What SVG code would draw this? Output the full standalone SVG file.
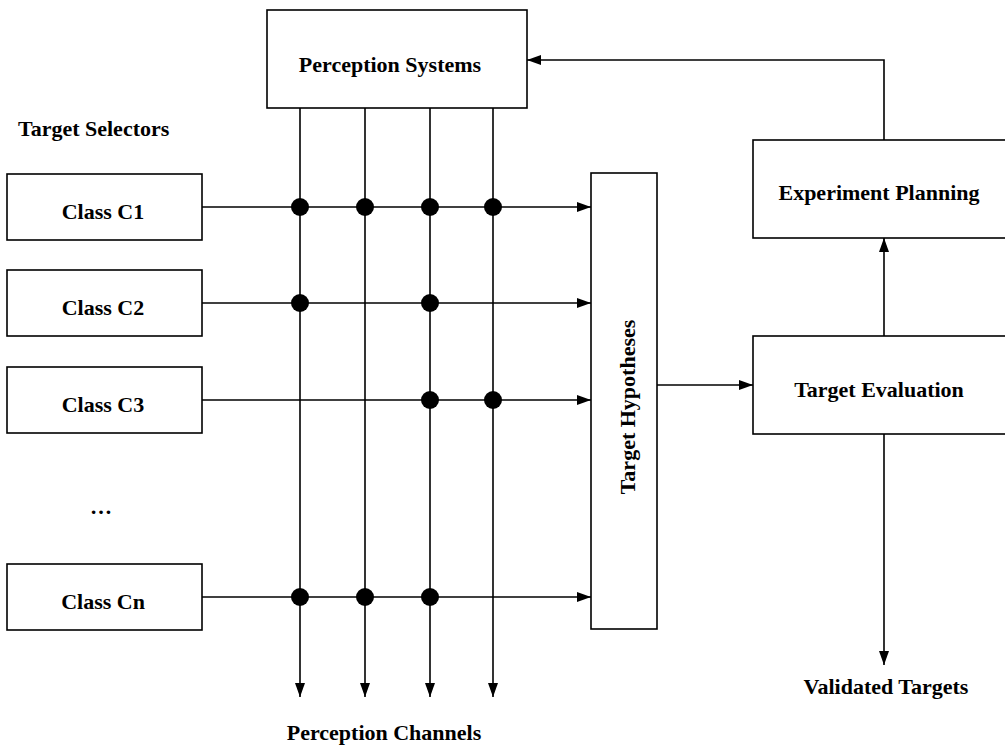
<svg xmlns="http://www.w3.org/2000/svg" width="1005" height="747" viewBox="0 0 1005 747">
  <style>
    .box { fill: #fff; stroke: #000; stroke-width: 1.6; }
    .lbl { font-family: "Liberation Serif", "Times New Roman", serif; font-weight: bold; font-size: 22px; fill: #000; }
    .mid { text-anchor: middle; }
    .wire { fill: none; stroke: #000; stroke-width: 1.6; }
    .arr { marker-end: url(#head); }
    .dot { fill: #000; }
  </style>
  <defs>
    <marker id="head" markerUnits="userSpaceOnUse" markerWidth="15" markerHeight="10" refX="14" refY="5" orient="auto">
      <path d="M0,0 L14,5 L0,10 z" fill="#000"/>
    </marker>
  </defs>

  <rect width="1005" height="747" fill="#fff"/>

  <!-- connectors -->
  <g id="connectors">
    <!-- perception channels, running down from the perception systems -->
    <path class="wire arr" d="M300,108 V697"/>
    <path class="wire arr" d="M365,108 V697"/>
    <path class="wire arr" d="M430,108 V697"/>
    <path class="wire arr" d="M493,108 V697"/>
    <!-- selector outputs into the hypotheses -->
    <path class="wire arr" d="M202,207 H591"/>
    <path class="wire arr" d="M202,303 H591"/>
    <path class="wire arr" d="M202,400 H591"/>
    <path class="wire arr" d="M202,597 H591"/>
    <!-- hypotheses to evaluation -->
    <path class="wire arr" d="M657,385 H753"/>
    <!-- evaluation to planning -->
    <path class="wire arr" d="M884,336 V238"/>
    <!-- planning back to perception -->
    <path class="wire arr" d="M884,140 V60 H527"/>
    <!-- validated output -->
    <path class="wire arr" d="M884,434 V665"/>
    <!-- channel taps -->
    <circle class="dot" cx="300" cy="207" r="9"/>
    <circle class="dot" cx="365" cy="207" r="9"/>
    <circle class="dot" cx="430" cy="207" r="9"/>
    <circle class="dot" cx="493" cy="207" r="9"/>
    <circle class="dot" cx="300" cy="303" r="9"/>
    <circle class="dot" cx="430" cy="303" r="9"/>
    <circle class="dot" cx="430" cy="400" r="9"/>
    <circle class="dot" cx="493" cy="400" r="9"/>
    <circle class="dot" cx="300" cy="597" r="9"/>
    <circle class="dot" cx="365" cy="597" r="9"/>
    <circle class="dot" cx="430" cy="597" r="9"/>
  </g>

  <g id="perception-systems">
    <rect class="box" x="267" y="10" width="260" height="98"/>
    <text class="lbl mid" x="390" y="72">Perception Systems</text>
  </g>

  <g id="target-selectors">
    <text class="lbl" x="18" y="136">Target Selectors</text>
  </g>

  <g id="class-c1">
    <rect class="box" x="7" y="174" width="195" height="66"/>
    <text class="lbl mid" x="103" y="219">Class C1</text>
  </g>
  <g id="class-c2">
    <rect class="box" x="7" y="270" width="195" height="66"/>
    <text class="lbl mid" x="103" y="315">Class C2</text>
  </g>
  <g id="class-c3">
    <rect class="box" x="7" y="367" width="195" height="66"/>
    <text class="lbl mid" x="103" y="412">Class C3</text>
  </g>
  <g id="ellipsis">
    <text class="lbl mid" x="101" y="514">…</text>
  </g>
  <g id="class-cn">
    <rect class="box" x="7" y="564" width="195" height="66"/>
    <text class="lbl mid" x="103" y="609">Class Cn</text>
  </g>

  <g id="target-hypotheses">
    <rect class="box" x="591" y="173" width="66" height="456"/>
    <text class="lbl mid" transform="translate(635,407) rotate(-90)">Target Hypotheses</text>
  </g>

  <g id="experiment-planning">
    <rect class="box" x="753" y="140" width="270" height="98"/>
    <text class="lbl mid" x="879" y="200">Experiment Planning</text>
  </g>

  <g id="target-evaluation">
    <rect class="box" x="753" y="336" width="270" height="98"/>
    <text class="lbl mid" x="879" y="397">Target Evaluation</text>
  </g>

  <g id="perception-channels">
    <text class="lbl mid" x="384" y="740">Perception Channels</text>
  </g>

  <g id="validated-targets">
    <text class="lbl mid" x="886" y="694">Validated Targets</text>
  </g>
</svg>
